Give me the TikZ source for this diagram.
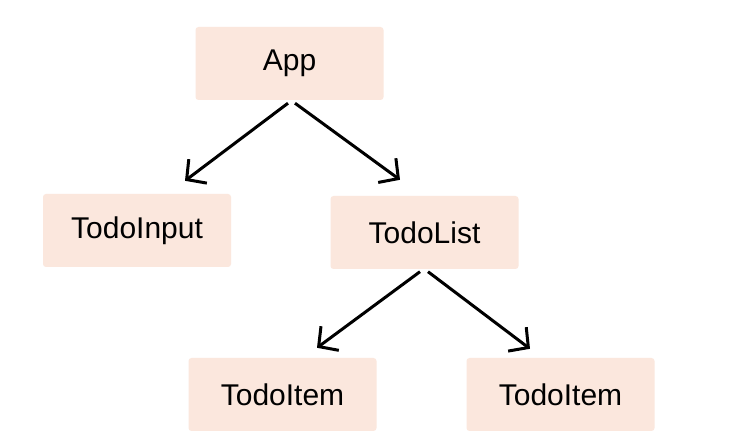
\documentclass[tikz,border=0pt]{standalone}
\usepackage{fontspec}
\setmainfont{Liberation Sans}
\usetikzlibrary{arrows.meta}
\definecolor{boxfill}{HTML}{FBE7DD}
\begin{document}
\begin{tikzpicture}[x=1pt,y=1pt,
  comp/.style={rectangle, rounded corners=3pt, fill=boxfill, draw=none,
    minimum width=188pt, minimum height=73pt, inner sep=0pt,
    font=\fontsize{30}{35}\selectfont},
  link/.style={line width=3pt, -{Straight Barb[length=14pt,width=30pt,line width=3pt]}}]
\useasboundingbox (0,0) rectangle (748,442);
\fill[white] (0,0) rectangle (748,442);
\node[comp] (app) at (289.5,378.5) {App};
\node[comp] (input) at (137,211.5) {TodoInput};
\node[comp] (list) at (424.5,209.5) {TodoList};
\node[comp] (itemL) at (282.5,47.5) {TodoItem};
\node[comp] (itemR) at (560.5,47.5) {TodoItem};
\coordinate (a1s) at ([xshift=-1.5pt,yshift=-3pt]app.south);
\coordinate (a2s) at ([xshift=5.5pt,yshift=-3pt]app.south);
\coordinate (a1e) at ([xshift=48pt,yshift=13pt]input.north);
\coordinate (a2e) at ([xshift=-24.5pt,yshift=16pt]list.north);
\coordinate (b1s) at ([xshift=-4.5pt,yshift=-2.5pt]list.south);
\coordinate (b2s) at ([xshift=3.5pt,yshift=-2.5pt]list.south);
\coordinate (b1e) at ([xshift=34.5pt,yshift=10pt]itemL.north);
\coordinate (b2e) at ([xshift=-30.5pt,yshift=9pt]itemR.north);
\draw[link] (a1s) -- (a1e);
\draw[link] (a2s) -- (a2e);
\draw[link] (b1s) -- (b1e);
\draw[link] (b2s) -- (b2e);
\end{tikzpicture}
\end{document}
